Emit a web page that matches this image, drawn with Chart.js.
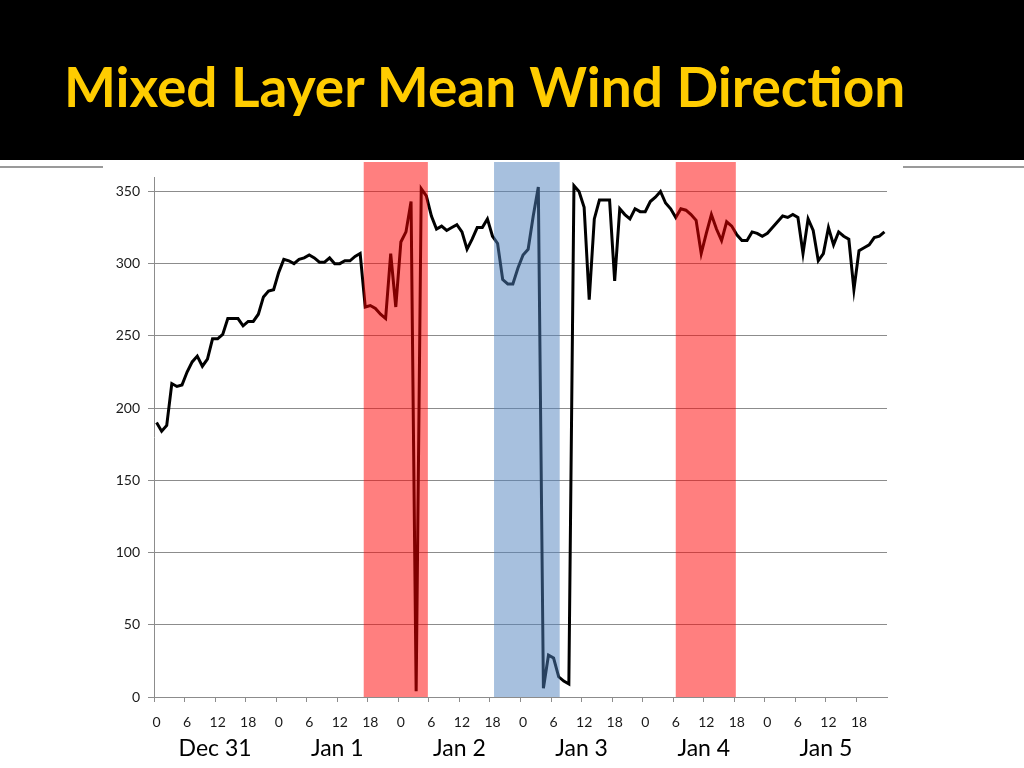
<!DOCTYPE html>
<html>
<head>
<meta charset="utf-8">
<script src="https://cdn.jsdelivr.net/npm/chart.js@4.4.0/dist/chart.umd.min.js"></script>
<style>
  body { margin: 0; width: 1024px; height: 768px; background: #fff; position: relative; overflow: hidden; }
  #header { position: absolute; left: 0; top: 0; width: 1024px; height: 160px; background: #000; }
  #title { position: absolute; left: 64px; top: 53px; color: #FFCC00; font-family: Lato, sans-serif; font-weight: 700; font-size: 55px; line-height: 1.2; white-space: nowrap; }
  #rule { position: absolute; left: 0; top: 166px; width: 1024px; height: 2px; background: #9a9a9a; }
  #chartBox { position: absolute; left: 103px; top: 160px; width: 800px; height: 608px; background: #fff; }
</style>
</head>
<body>
<div id="header"><div id="title">Mixed Layer Mean Wind Direction</div></div>
<div id="rule"></div>
<div id="chartBox"><canvas id="windChart"></canvas></div>
<script>
// days and the hour labels shown under the axis
const days = ['Dec 31', 'Jan 1', 'Jan 2', 'Jan 3', 'Jan 4', 'Jan 5'];
const tickLabels = ['0', '6', '12', '18'];

// hourly mean wind direction (degrees), one row per day
const direction = [
  190, 184, 188, 217, 215, 216, 225, 232, 236, 229, 234, 248, 248, 251, 262, 262, 262, 257, 260, 260, 265, 277, 281, 282,
  294, 303, 302, 300, 303, 304, 306, 304, 301, 301, 304, 300, 300, 302, 302, 305, 307, 270, 271, 269, 265, 262, 307, 270,
  315, 322, 343, 4, 352, 347, 333, 324, 326, 323, 325, 327, 322, 310, 317, 325, 325, 331, 319, 314, 289, 286, 286, 297,
  306, 310, 333, 353, 6, 29, 27, 14, 11, 9, 354, 350, 339, 275, 331, 344, 344, 344, 288, 338, 334, 331, 338, 336,
  336, 343, 346, 350, 342, 338, 332, 338, 337, 334, 330, 307, 321, 334, 324, 316, 329, 326, 320, 316, 316, 322, 321, 319,
  321, 325, 329, 333, 332, 334, 332, 307, 331, 323, 302, 307, 325, 313, 322, 319, 317, 282, 309, 311, 313, 318, 319, 322
];

// shaded periods, in hours from Dec 31 00
const redBands = [[41.2, 53.8], [102.5, 114.3]];
const blueBands = [[66.8, 79.7]];

const hours = [];
days.forEach(d => {
  for (let h = 0; h < 24; h++) hours.push(String(h));
});

const axisGray = '#8c8c8c';
const tickFont = { family: 'Lato', size: 14 };

// draws the shaded periods on top of the line
const bandPlugin = {
  id: 'bands',
  afterDatasetsDraw(chart) {
    const { ctx, chartArea, scales: { x } } = chart;
    const paint = (bands, color) => {
      bands.forEach(([a, b]) => {
        const x0 = x.getPixelForValue(a - 0.5);
        const x1 = x.getPixelForValue(b - 0.5);
        ctx.fillStyle = color;
        ctx.fillRect(x0, 2, x1 - x0, chartArea.bottom - 2);
      });
    };
    ctx.save();
    paint(redBands, 'rgba(255, 0, 0, 0.5)');
    paint(blueBands, 'rgba(79, 129, 189, 0.5)');
    ctx.restore();
  }
};

new Chart(document.getElementById('windChart'), {
  type: 'line',
  data: {
    labels: hours,
    datasets: [{
      data: direction,
      borderColor: '#000',
      borderWidth: 3,
      pointRadius: 0,
      tension: 0,
      fill: false
    }]
  },
  options: {
    responsive: true,
    maintainAspectRatio: false,
    animation: false,
    layout: { padding: { left: 0, right: 16, top: 17, bottom: 11 } },
    plugins: { legend: { display: false }, tooltip: { enabled: false } },
    scales: {
      x: {
        type: 'category',
        offset: true,
        weight: 0,
        ticks: {
          autoSkip: false,
          maxRotation: 0,
          padding: 12,
          color: '#1a1a1a',
          font: tickFont,
          callback(value) {
            const lab = this.getLabelForValue(value);
            return tickLabels.includes(lab) ? lab : '';
          }
        },
        grid: {
          offset: true,
          drawOnChartArea: false,
          tickLength: 5,
          color: c => (c.index % 6 === 0 ? axisGray : 'rgba(0,0,0,0)')
        },
        border: { color: axisGray },
        afterFit(scale) { scale.height = 30; }
      },
      xDay: {
        type: 'category',
        labels: days,
        offset: true,
        position: 'bottom',
        weight: 1,
        grid: { display: false },
        border: { display: false },
        ticks: { maxRotation: 0, padding: 0, color: '#000', font: { family: 'Lato', size: 23 } },
        afterFit(scale) { scale.height = 30; }
      },
      y: {
        min: 0,
        max: 360,
        ticks: { stepSize: 50, includeBounds: false, padding: 8, color: '#1a1a1a', font: tickFont },
        grid: { color: axisGray, tickLength: 6 },
        border: { color: axisGray },
        afterFit(scale) { scale.width = 51; }
      }
    }
  },
  plugins: [bandPlugin]
});
</script>
</body>
</html>
